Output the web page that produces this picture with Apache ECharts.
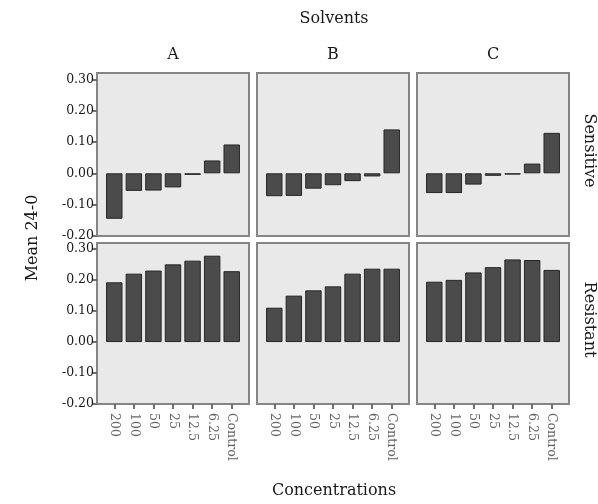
<!DOCTYPE html>
<html>
<head>
<meta charset="utf-8">
<script src="https://cdn.jsdelivr.net/npm/echarts@6/dist/echarts.min.js"></script>
<style>
  html, body { margin: 0; padding: 0; background: #ffffff; }
  #chart { width: 598px; height: 504px; }
</style>
</head>
<body>
<div id="chart"></div>
<script>
// ---- data ----
const categories = ['200', '100', '50', '25', '12.5', '6.25', 'Control'];
const solvents = ['A', 'B', 'C'];
const groups = ['Sensitive', 'Resistant'];
const sensitiveA = [-0.145, -0.056, -0.055, -0.045, -0.005, 0.041, 0.092];
const sensitiveB = [-0.073, -0.072, -0.049, -0.038, -0.025, -0.010, 0.140];
const sensitiveC = [-0.063, -0.063, -0.036, -0.008, -0.004, 0.031, 0.129];
const resistantA = [0.193, 0.221, 0.231, 0.251, 0.263, 0.279, 0.229];
const resistantB = [0.111, 0.150, 0.167, 0.180, 0.221, 0.237, 0.237];
const resistantC = [0.195, 0.201, 0.225, 0.242, 0.267, 0.265, 0.233];
const yTicks = [-0.2, -0.1, 0, 0.1, 0.2, 0.3];
const yMin = -0.2, yMax = 0.32;

const values = [[sensitiveA, sensitiveB, sensitiveC], [resistantA, resistantB, resistantC]];

// ---- layout ----
const FONT = 'DejaVu Serif';
const panelLeft = [97, 257, 417];
const panelWidth = 152;
const panelTop = [73, 243];
const panelHeight = [163, 161];
const inset = 7.5;

const grid = [], xAxis = [], yAxis = [], series = [];
for (let r = 0; r < 2; r++) {
  for (let c = 0; c < 3; c++) {
    const fi = grid.length;
    // frame grid (panel background + border + y axis)
    grid.push({
      left: panelLeft[c], top: panelTop[r], width: panelWidth, height: panelHeight[r],
      show: true, backgroundColor: '#e9e9e9', borderColor: '#858585', borderWidth: 2
    });
    xAxis.push({ gridIndex: fi, type: 'value', show: false, min: 0, max: 1 });
    yAxis.push({
      gridIndex: fi, type: 'value', min: yMin, max: yMax, show: c === 0,
      axisLine: { show: false }, splitLine: { show: false },
      axisTick: { show: true, length: 5, lineStyle: { color: '#707070', width: 2 }, customValues: yTicks },
      axisLabel: {
        customValues: yTicks, formatter: v => v.toFixed(2),
        fontFamily: FONT, fontSize: 12.5, color: '#1a1a1a', margin: 3
      }
    });
    // data grid
    const di = grid.length;
    grid.push({
      left: panelLeft[c] + inset, top: panelTop[r], width: panelWidth - 2 * inset, height: panelHeight[r],
      show: false
    });
    xAxis.push({
      gridIndex: di, type: 'category', data: categories,
      axisLine: { show: false, onZero: false },
      axisTick: { show: r === 1, alignWithLabel: true, length: 5, lineStyle: { color: '#707070', width: 2 } },
      axisLabel: {
        show: r === 1, rotate: -90, interval: 0, margin: 9,
        fontFamily: FONT, fontSize: 12.5, color: '#666'
      },
      splitLine: { show: false }
    });
    yAxis.push({ gridIndex: di, type: 'value', min: yMin, max: yMax, show: false, splitLine: { show: false } });
    series.push({
      type: 'bar', xAxisIndex: di, yAxisIndex: di,
      data: values[r][c], barWidth: '84%',
      itemStyle: { color: '#4b4b4b', borderColor: '#262626', borderWidth: 1 }
    });
  }
}

const txt = (text, x, y, size, rotation) => ({
  type: 'text', x: x, y: y, rotation: rotation || 0,
  style: { text: text, fontFamily: FONT, fontSize: size, fill: '#1a1a1a', align: 'center', verticalAlign: 'middle' }
});

const graphic = [
  txt('Solvents', 334, 19, 16),
  txt('Concentrations', 334, 491, 16),
  txt('Mean 24-0', 33, 238, 16, Math.PI / 2)
];
solvents.forEach((s, c) => graphic.push(txt(s, panelLeft[c] + panelWidth / 2, 55, 16)));
groups.forEach((g, r) => graphic.push(txt(g, 589, panelTop[r] + panelHeight[r] / 2 - 4, 16, -Math.PI / 2)));

const chart = echarts.init(document.getElementById('chart'));
chart.setOption({
  animation: false,
  backgroundColor: '#ffffff',
  grid, xAxis, yAxis, series, graphic
});
</script>
</body>
</html>
